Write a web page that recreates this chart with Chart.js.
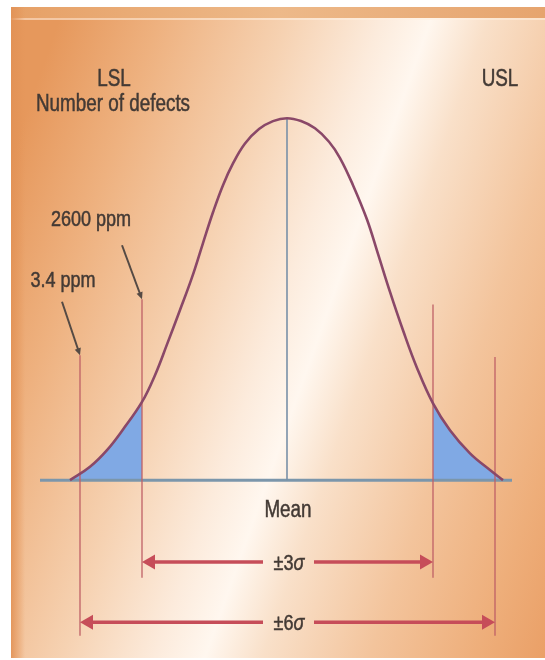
<!DOCTYPE html>
<html>
<head>
<meta charset="utf-8">
<script src="https://cdn.jsdelivr.net/npm/chart.js@4.4.1/dist/chart.umd.min.js"></script>
<style>
  html, body { margin: 0; padding: 0; background: #ffffff; }
  #wrap { width: 545px; height: 660px; position: relative; }
</style>
</head>
<body>
<div id="wrap"><canvas id="chart"></canvas></div>
<script>
// Distribution curve: offset from the mean (x) and relative frequency (y, peak = 1)
const curveX = [-217, -197, -180, -164, -145, -132, -120, -107, -95, -84, -74, -64, -54, -42, -28, -14, 0, 14, 28, 42, 53, 66, 80, 91, 103, 116, 130, 146, 163, 183, 203, 216];
const curveY = [0, 0.037, 0.083, 0.14, 0.216, 0.29, 0.375, 0.47, 0.56, 0.655, 0.74, 0.815, 0.875, 0.93, 0.97, 0.992, 1.0, 0.992, 0.972, 0.935, 0.89, 0.815, 0.72, 0.625, 0.52, 0.414, 0.31, 0.212, 0.138, 0.074, 0.028, 0];

// Limit markers: ±6σ and ±3σ positions, with the vertical reach of each marker line
const limitX      = [-207, -145, 146, 208];
const limitTop    = [0.345, 0.50, 0.485, 0.34];
const limitBottom = [-0.43, -0.27, -0.27, -0.43];

// Tail regions (defects) lie beyond the ±3σ markers
const tailLow = -145;
const tailHigh = 146;

// Horizontal span arrows
const spanLabels = ['±3', '±6'];
const spanFrom   = [-145, -207];
const spanTo     = [146, 208];
const spanY      = [-0.226, -0.393];

// Callout labels and the marker each one points to
const calloutLabels = ['2600 ppm', '3.4 ppm'];
const calloutTarget = [1, 0];

// Axis extents
const xRange = [-247, 225];
const yRange = [-0.45, 1.1];

const pts = (xs, ys) => xs.map((v, i) => ({ x: v, y: ys[i] }));
const curve = pts(curveX, curveY);
const leftTail = curve.filter(p => p.x <= tailLow);
const rightTail = curve.filter(p => p.x >= tailHigh);

const TEXT = '#433a35';
const FONT = '"Liberation Sans", Arial, sans-serif';
const SQUEEZE = 0.82;

function label(ctx, str, cx, baseY, size, parts) {
  ctx.save();
  ctx.fillStyle = TEXT;
  ctx.strokeStyle = TEXT;
  ctx.lineWidth = 0.5;
  ctx.textBaseline = 'alphabetic';
  ctx.textAlign = 'left';
  const runs = parts || [{ t: str, italic: false }];
  let total = 0;
  runs.forEach(r => {
    ctx.font = (r.italic ? 'italic ' : '') + size + 'px ' + FONT;
    r.w = ctx.measureText(r.t).width * SQUEEZE;
    total += r.w;
  });
  let x = cx - total / 2;
  runs.forEach(r => {
    ctx.font = (r.italic ? 'italic ' : '') + size + 'px ' + FONT;
    ctx.save();
    ctx.translate(x, baseY);
    ctx.scale(SQUEEZE, 1);
    ctx.fillText(r.t, 0, 0);
    ctx.strokeText(r.t, 0, 0);
    ctx.restore();
    x += r.w;
  });
  ctx.restore();
  return total;
}

function arrowHead(ctx, tipX, tipY, dirX, dirY, len, half, color) {
  const m = Math.hypot(dirX, dirY);
  const ux = dirX / m, uy = dirY / m;
  const bx = tipX - ux * len, by = tipY - uy * len;
  ctx.beginPath();
  ctx.moveTo(tipX, tipY);
  ctx.lineTo(bx - uy * half, by + ux * half);
  ctx.lineTo(bx + uy * half, by - ux * half);
  ctx.closePath();
  ctx.fillStyle = color;
  ctx.fill();
}

const panelBackground = {
  id: 'panelBackground',
  beforeDraw(chart) {
    const ctx = chart.ctx;
    const W = chart.width, H = chart.height;
    ctx.save();
    ctx.fillStyle = '#ffffff';
    ctx.fillRect(0, 0, W, H);
    const L = 11, T = 7, R = W, B = 658;
    const g = ctx.createLinearGradient(-10, 215, 625, 440);
    g.addColorStop(0.00, '#e6985c');
    g.addColorStop(0.14, '#eeb17f');
    g.addColorStop(0.32, '#f6d2b2');
    g.addColorStop(0.45, '#fcebdc');
    g.addColorStop(0.52, '#fff7ef');
    g.addColorStop(0.60, '#f9e0c9');
    g.addColorStop(0.75, '#f3c49c');
    g.addColorStop(0.90, '#eeae7a');
    g.addColorStop(1.00, '#ea9f66');
    ctx.fillStyle = g;
    ctx.fillRect(L, T, R - L, B - T);
    // darker band along the top edge
    const tb = ctx.createLinearGradient(L, 0, R, 0);
    tb.addColorStop(0, '#e6a066');
    tb.addColorStop(0.5, '#edb989');
    tb.addColorStop(1, '#e6a46e');
    ctx.fillStyle = tb;
    ctx.fillRect(L, T, R - L, 11);
    ctx.fillStyle = 'rgba(255,240,225,0.55)';
    ctx.fillRect(L, T + 11, R - L, 2);
    // darker strip along the left edge
    const lb = ctx.createLinearGradient(L, 0, L + 14, 0);
    lb.addColorStop(0, 'rgba(226,146,86,0.9)');
    lb.addColorStop(1, 'rgba(226,146,86,0)');
    ctx.fillStyle = lb;
    ctx.fillRect(L, T, 14, B - T);
    ctx.restore();
  }
};

const annotations = {
  id: 'annotations',
  afterDatasetsDraw(chart) {
    const { ctx, scales: { x, y } } = chart;
    ctx.save();

    // span arrows with centered sigma labels
    const red = '#c64d59';
    spanLabels.forEach((lab, i) => {
      const x0 = x.getPixelForValue(spanFrom[i]);
      const x1 = x.getPixelForValue(spanTo[i]);
      const py = y.getPixelForValue(spanY[i]);
      const mid = x.getPixelForValue(0);
      const gapL = mid - 24, gapR = mid + 27;
      ctx.strokeStyle = red;
      ctx.lineWidth = 3.5;
      ctx.lineCap = 'butt';
      ctx.beginPath();
      ctx.moveTo(x0 + 8, py); ctx.lineTo(gapL, py);
      ctx.moveTo(gapR, py); ctx.lineTo(x1 - 8, py);
      ctx.stroke();
      arrowHead(ctx, x0, py, -1, 0, 13, 7.5, red);
      arrowHead(ctx, x1, py, 1, 0, 13, 7.5, red);
      label(ctx, '', mid + 2, py + 8, 22, [{ t: lab, italic: false }, { t: 'σ', italic: true }]);
    });

    // callout pointers
    const dark = '#554a44';
    const callStart = [[-165, 0.649], [-225, 0.493]];
    const callText = [[91, 226], [63, 287]];
    calloutLabels.forEach((lab, i) => {
      const k = calloutTarget[i];
      const sx = x.getPixelForValue(callStart[i][0]);
      const sy = y.getPixelForValue(callStart[i][1]);
      const tx = x.getPixelForValue(limitX[k]);
      const ty = y.getPixelForValue(limitTop[k]);
      ctx.strokeStyle = dark;
      ctx.lineWidth = 2;
      ctx.beginPath();
      ctx.moveTo(sx, sy);
      const dx = tx - sx, dy = ty - sy, m = Math.hypot(dx, dy);
      ctx.lineTo(tx - dx / m * 5, ty - dy / m * 5);
      ctx.stroke();
      arrowHead(ctx, tx, ty, dx, dy, 7, 3.2, dark);
      label(ctx, lab, callText[i][0], callText[i][1], 22);
    });

    // headings and axis note
    label(ctx, 'LSL', 114, 86, 23);
    label(ctx, 'Number of defects', 113, 111, 23);
    label(ctx, 'USL', 500, 86, 23);
    label(ctx, 'Mean', x.getPixelForValue(0) + 1, 517, 23);

    ctx.restore();
  }
};

const lineDefaults = { pointRadius: 0, pointHoverRadius: 0, fill: false, clip: false };

const datasets = [
  Object.assign({}, lineDefaults, {
    data: curve, borderColor: '#8a4868', borderWidth: 2.6, tension: 0.4, order: 1
  }),
  Object.assign({}, lineDefaults, {
    data: [{ x: 0, y: 0 }, { x: 0, y: 1 }], borderColor: '#7990a7', borderWidth: 1.6, order: 2
  }),
  ...limitX.map((lx, i) => Object.assign({}, lineDefaults, {
    data: [{ x: lx, y: limitBottom[i] }, { x: lx, y: limitTop[i] }],
    borderColor: '#bf6066', borderWidth: 1.3, order: 2
  })),
  Object.assign({}, lineDefaults, {
    data: [{ x: xRange[0], y: 0 }, { x: xRange[1], y: 0 }], borderColor: '#7b96ab', borderWidth: 3, order: 3
  }),
  Object.assign({}, lineDefaults, {
    data: leftTail, fill: 'origin', backgroundColor: '#80a9e4', borderWidth: 0, tension: 0.4, order: 4
  }),
  Object.assign({}, lineDefaults, {
    data: rightTail, fill: 'origin', backgroundColor: '#80a9e4', borderWidth: 0, tension: 0.4, order: 4
  })
];

new Chart(document.getElementById('chart'), {
  type: 'line',
  data: { datasets },
  options: {
    responsive: true,
    maintainAspectRatio: false,
    animation: false,
    events: [],
    layout: { padding: { left: 40, right: 33, top: 82, bottom: 17 } },
    scales: {
      x: { type: 'linear', display: false, min: xRange[0], max: xRange[1] },
      y: { type: 'linear', display: false, min: yRange[0], max: yRange[1] }
    },
    plugins: { legend: { display: false }, tooltip: { enabled: false } }
  },
  plugins: [panelBackground, annotations]
});
</script>
</body>
</html>
